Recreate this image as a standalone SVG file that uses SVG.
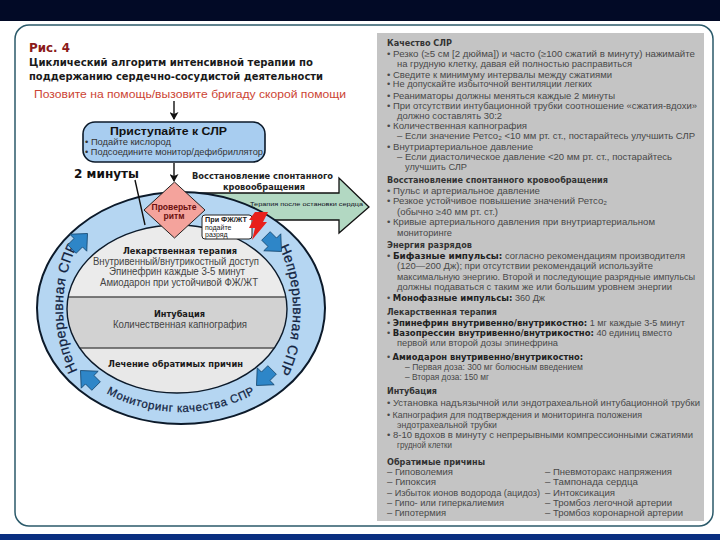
<svg xmlns="http://www.w3.org/2000/svg" width="720" height="540" viewBox="0 0 720 540">
<style>
text{font-family:"Liberation Sans",Arial,sans-serif;fill:#222}
.wide{font-family:"DejaVu Sans",Verdana,sans-serif;font-weight:700}
.p{font-size:8.6px;fill:#484848}
.h{font-family:"DejaVu Sans",sans-serif;font-weight:700;fill:#333;font-size:8px}
.b{font-family:"DejaVu Sans",sans-serif;font-weight:700;fill:#222;font-size:8px}
.i{font-family:"DejaVu Sans",sans-serif;font-weight:700;fill:#1a1a1a;font-size:9px}
.m{text-anchor:middle}
.in{font-size:10px;fill:#444}
.ring{font-size:14px;fill:#12233f;stroke:#12233f;stroke-width:.25;letter-spacing:.5px}
.ringb{font-size:11.5px;fill:#12233f;stroke:#12233f;stroke-width:.25;letter-spacing:.6px}
.line{stroke:#111;stroke-width:1.4;fill:none}
.blue{fill:#2e86c8;stroke:#14466e;stroke-width:.8}
</style>
<defs>
<marker id="ah" markerWidth="9" markerHeight="9" refX="7" refY="4.500" orient="auto" markerUnits="userSpaceOnUse"><path d="M0,0L8,4.500L0,9L2,4.500Z" fill="#111"/></marker>
<clipPath id="innerClip"><ellipse cx="177" cy="309" rx="110" ry="84"/></clipPath>
<path id="blk" d="M0,-12L12,1L6,1L6,10L-6,10L-6,1L-12,1Z"/>
<path id="pathL" d="M179,438A116,130 0 0 1 179,178" fill="none"/>
<path id="pathR" d="M179,178A114,132 0 0 1 179,442" fill="none"/>
<path id="pathB" d="M51,308A130,104 0 0 0 311,308" fill="none"/>
</defs>

<rect width="720" height="540" fill="#fff"/>
<rect width="720" height="21" fill="#020a26"/>
<rect y="534" width="720" height="6" fill="#0a2f80"/>
<rect x="15" y="25" width="698" height="501" rx="14" fill="#fff" stroke="#2b5a6a" stroke-width="1.5"/>

<g id="title">
<text x="29" y="52" font-size="12.500" class="wide" textLength="41" lengthAdjust="spacingAndGlyphs" style="fill:#8b1a1a">Рис. 4</text>
<text x="29" y="66" font-size="10" class="wide" textLength="284" lengthAdjust="spacingAndGlyphs" style="fill:#1a1a1a">Циклический алгоритм интенсивной терапии по</text>
<text x="29" y="80" font-size="10" class="wide" textLength="294" lengthAdjust="spacingAndGlyphs" style="fill:#1a1a1a">поддержанию сердечно-сосудистой деятельности</text>
</g>
<g id="call"><text x="34" y="98" font-size="11" textLength="312" lengthAdjust="spacingAndGlyphs" style="fill:#cc4433">Позовите на помощь/вызовите бригаду скорой помощи</text></g>

<g id="rosc-arrow">
<path d="M190,193L339,193L339,178L369,207L339,233L339,220L250,220L190,220Z" fill="#b2d8c2" stroke="#111" stroke-width="1.300"/>
<text x="250" y="206" font-size="5.800" textLength="113" lengthAdjust="spacingAndGlyphs" style="fill:#112">Терапия после остановки сердца</text>
</g>
<g id="rosc-label">
<rect x="190" y="166" width="148" height="26" fill="#fff"/>
<text x="192" y="179" class="wide" font-size="8" textLength="141" lengthAdjust="spacingAndGlyphs">Восстановление спонтанного</text>
<text x="223" y="190" class="wide" font-size="8" textLength="82" lengthAdjust="spacingAndGlyphs">кровообращения</text>
</g>

<g id="cycle">
<ellipse cx="181" cy="308" rx="144" ry="116" fill="#b5d6f2" stroke="#0c1a2a" stroke-width="2"/>
<g clip-path="url(#innerClip)">
<rect x="60" y="220" width="240" height="77" fill="#ebebeb"/>
<rect x="60" y="297" width="240" height="51" fill="#d2d2d2"/>
<rect x="60" y="348" width="240" height="50" fill="#e8e8e8"/>
<path d="M60,297H300M60,348H300" stroke="#555" stroke-width="1.400"/>
</g>
<ellipse cx="177" cy="309" rx="110" ry="84" fill="none" stroke="#0c1a2a" stroke-width="1.400"/>
<text class="ring m"><textPath href="#pathL" startOffset="50%">Непрерывная СПР</textPath></text>
<text class="ring m"><textPath href="#pathR" startOffset="50%">Непрерывная СПР</textPath></text>
<text class="ringb m"><textPath href="#pathB" startOffset="50%">Мониторинг качества СПР</textPath></text>
<use href="#blk" class="blue" transform="translate(79,242) rotate(45)"/>
<use href="#blk" class="blue" transform="translate(273,243) rotate(135)"/>
<use href="#blk" class="blue" transform="translate(265,377) rotate(225)"/>
<use href="#blk" class="blue" transform="translate(89,379) rotate(315)"/>
</g>

<g id="therapy">
<text x="123" y="254" class="i" textLength="114" lengthAdjust="spacingAndGlyphs">Лекарственная терапия</text>
<text x="93" y="265" class="in" textLength="166" lengthAdjust="spacingAndGlyphs">Внутривенный/внутрикостный доступ</text>
<text x="109" y="275" class="in" textLength="136" lengthAdjust="spacingAndGlyphs">Эпинефрин каждые 3-5 минут</text>
<text x="100" y="286" class="in" textLength="158" lengthAdjust="spacingAndGlyphs">Амиодарон при устойчивой ФЖ/ЖТ</text>
</g>
<g id="intubation">
<text x="154" y="317" class="i" textLength="51" lengthAdjust="spacingAndGlyphs">Интубация</text>
<text x="113" y="328" class="in" textLength="134" lengthAdjust="spacingAndGlyphs">Количественная капнография</text>
</g>
<g id="causes"><text x="108" y="367" class="i" textLength="135" lengthAdjust="spacingAndGlyphs">Лечение обратимых причин</text></g>

<g id="connectors">
<path class="line" d="M174,101V119" marker-end="url(#ah)"/>
<path class="line" d="M174,163V181" marker-end="url(#ah)"/>
<path class="line" d="M135,180L145,225"/>
</g>

<g id="start">
<rect x="83" y="122" width="182" height="40" rx="12" fill="#a8cdf0" stroke="#0c1a2a" stroke-width="1.600"/>
<text x="110" y="135" font-size="11.500" font-weight="700" textLength="117" lengthAdjust="spacingAndGlyphs" style="fill:#111">Приступайте к СЛР</text>
<text x="85" y="145" font-size="9" textLength="86" lengthAdjust="spacingAndGlyphs" style="fill:#333">• Подайте кислород</text>
<text x="85" y="155" font-size="9" textLength="178" lengthAdjust="spacingAndGlyphs" style="fill:#333">• Подсоедините монитор/дефибриллятор</text>
</g>
<g id="label-2min"><text x="74" y="178" font-size="12.500" class="wide" textLength="65" lengthAdjust="spacingAndGlyphs" style="fill:#111">2 минуты</text></g>

<g id="rhythm">
<path d="M174.500,182L205,210L174.500,238L144,210Z" fill="#f4a39c" stroke="#222" stroke-width="1"/>
<text x="174" y="210" class="m" font-size="8.500" font-weight="700" style="fill:#6a1010">Проверьте</text>
<text x="174" y="219" class="m" font-size="8.500" font-weight="700" style="fill:#6a1010">ритм</text>
</g>
<g id="shock">
<rect x="202" y="215" width="50" height="24" rx="3" fill="#fff" stroke="#222" stroke-width="1"/>
<text x="205" y="222" font-size="7" font-weight="700" textLength="42" lengthAdjust="spacingAndGlyphs" style="fill:#222">При ФЖ/ЖТ</text>
<text x="205" y="229.500" font-size="7" style="fill:#222">подайте</text>
<text x="205" y="237" font-size="7" style="fill:#222">разряд</text>
<path d="M255,212L268,212L263,222L267,222L252,240L255,228L249,228L253,220L249,220Z" fill="#e8201c"/>
</g>

<g id="panel">
<rect x="377" y="33" width="327" height="488" fill="#c4c4c4"/>
<text class="h" x="387" y="46" textLength="65" lengthAdjust="spacingAndGlyphs">Качество СЛР</text>
<text class="p" x="387" y="57" textLength="308" lengthAdjust="spacingAndGlyphs">• Резко (≥5 см [2 дюйма]) и часто (≥100 сжатий в минуту) нажимайте</text>
<text class="p" x="397" y="67" textLength="235" lengthAdjust="spacingAndGlyphs">на грудную клетку, давая ей полностью расправиться</text>
<text class="p" x="387" y="78" textLength="225" lengthAdjust="spacingAndGlyphs">• Сведите к минимуму интервалы между сжатиями</text>
<text class="p" x="387" y="87" textLength="205" lengthAdjust="spacingAndGlyphs">• Не допускайте избыточной вентиляции легких</text>
<text class="p" x="387" y="99" textLength="228" lengthAdjust="spacingAndGlyphs">• Реаниматоры должны меняться каждые 2 минуты</text>
<text class="p" x="387" y="109" textLength="310" lengthAdjust="spacingAndGlyphs">• При отсутствии интубационной трубки соотношение «сжатия-вдохи»</text>
<text class="p" x="397" y="119" textLength="105" lengthAdjust="spacingAndGlyphs">должно составлять 30:2</text>
<text class="p" x="387" y="129" textLength="140" lengthAdjust="spacingAndGlyphs">• Количественная капнография</text>
<text class="p" x="397" y="139" textLength="298" lengthAdjust="spacingAndGlyphs">– Если значение Ретсо₂ &lt;10 мм рт. ст., постарайтесь улучшить СЛР</text>
<text class="p" x="387" y="150" textLength="146" lengthAdjust="spacingAndGlyphs">• Внутриартериальное давление</text>
<text class="p" x="397" y="160" textLength="275" lengthAdjust="spacingAndGlyphs">– Если диастолическое давление &lt;20 мм рт. ст., постарайтесь</text>
<text class="p" x="405" y="170" textLength="62" lengthAdjust="spacingAndGlyphs">улучшить СЛР</text>
<text class="h" x="387" y="183" textLength="221" lengthAdjust="spacingAndGlyphs">Восстановление спонтанного кровообращения</text>
<text class="p" x="387" y="194" textLength="153" lengthAdjust="spacingAndGlyphs">• Пульс и артериальное давление</text>
<text class="p" x="387" y="204" textLength="220" lengthAdjust="spacingAndGlyphs">• Резкое устойчивое повышение значений Ретсо₂</text>
<text class="p" x="397" y="215" textLength="101" lengthAdjust="spacingAndGlyphs">(обычно ≥40 мм рт. ст.)</text>
<text class="p" x="387" y="225" textLength="268" lengthAdjust="spacingAndGlyphs">• Кривые артериального давления при внутриартериальном</text>
<text class="p" x="397" y="236" textLength="55" lengthAdjust="spacingAndGlyphs">мониторинге</text>
<text class="h" x="387" y="248" textLength="85" lengthAdjust="spacingAndGlyphs">Энергия разрядов</text>
<text class="p" x="387" y="259" textLength="298" lengthAdjust="spacingAndGlyphs">• <tspan class="b">Бифазные импульсы:</tspan> согласно рекомендациям производителя</text>
<text class="p" x="397" y="269" textLength="256" lengthAdjust="spacingAndGlyphs">(120—200 Дж); при отсутствии рекомендаций используйте</text>
<text class="p" x="397" y="280" textLength="298" lengthAdjust="spacingAndGlyphs">максимальную энергию. Второй и последующие разрядные импульсы</text>
<text class="p" x="397" y="290" textLength="275" lengthAdjust="spacingAndGlyphs">должны подаваться с таким же или большим уровнем энергии</text>
<text class="p" x="387" y="301" textLength="158" lengthAdjust="spacingAndGlyphs">• <tspan class="b">Монофазные импульсы:</tspan> 360 Дж</text>
<text class="h" x="387" y="315" textLength="110" lengthAdjust="spacingAndGlyphs">Лекарственная терапия</text>
<text class="p" x="387" y="326" textLength="298" lengthAdjust="spacingAndGlyphs">• <tspan class="b">Эпинефрин внутривенно/внутрикостно:</tspan> 1 мг каждые 3-5 минут</text>
<text class="p" x="387" y="336" textLength="285" lengthAdjust="spacingAndGlyphs">• <tspan class="b">Вазопрессин внутривенно/внутрикостно:</tspan> 40 единиц вместо</text>
<text class="p" x="397" y="346" textLength="161" lengthAdjust="spacingAndGlyphs">первой или второй дозы эпинефрина</text>
<text class="p" x="387" y="360" textLength="196" lengthAdjust="spacingAndGlyphs">• <tspan class="b">Амиодарон внутривенно/внутрикостно:</tspan></text>
<text class="p" x="405" y="370" textLength="178" lengthAdjust="spacingAndGlyphs">– Первая доза: 300 мг болюсным введением</text>
<text class="p" x="405" y="380" textLength="84" lengthAdjust="spacingAndGlyphs">– Вторая доза: 150 мг</text>
<text class="h" x="387" y="394" textLength="50" lengthAdjust="spacingAndGlyphs">Интубация</text>
<text class="p" x="387" y="406" textLength="313" lengthAdjust="spacingAndGlyphs">• Установка надъязычной или эндотрахеальной интубационной трубки</text>
<text class="p" x="387" y="418" textLength="255" lengthAdjust="spacingAndGlyphs">• Капнография для подтверждения и мониторинга положения</text>
<text class="p" x="397" y="428" textLength="100" lengthAdjust="spacingAndGlyphs">эндотрахеальной трубки</text>
<text class="p" x="387" y="438" textLength="306" lengthAdjust="spacingAndGlyphs">• 8-10 вдохов в минуту с непрерывными компрессионными сжатиями</text>
<text class="p" x="397" y="448" textLength="55" lengthAdjust="spacingAndGlyphs">грудной клетки</text>
<text class="h" x="387" y="465" textLength="98" lengthAdjust="spacingAndGlyphs">Обратимые причины</text>
<text class="p" x="387" y="475" textLength="66" lengthAdjust="spacingAndGlyphs">– Гиповолемия</text>
<text class="p" x="387" y="485" textLength="49" lengthAdjust="spacingAndGlyphs">– Гипоксия</text>
<text class="p" x="387" y="496" textLength="153" lengthAdjust="spacingAndGlyphs">– Избыток ионов водорода (ацидоз)</text>
<text class="p" x="387" y="506" textLength="117" lengthAdjust="spacingAndGlyphs">– Гипо- или гиперкалиемия</text>
<text class="p" x="387" y="516" textLength="59" lengthAdjust="spacingAndGlyphs">– Гипотермия</text>
<text class="p" x="545" y="475" textLength="127" lengthAdjust="spacingAndGlyphs">– Пневмоторакс напряжения</text>
<text class="p" x="545" y="485" textLength="93" lengthAdjust="spacingAndGlyphs">– Тампонада сердца</text>
<text class="p" x="545" y="496" textLength="70" lengthAdjust="spacingAndGlyphs">– Интоксикация</text>
<text class="p" x="545" y="506" textLength="127" lengthAdjust="spacingAndGlyphs">– Тромбоз легочной артерии</text>
<text class="p" x="545" y="516" textLength="138" lengthAdjust="spacingAndGlyphs">– Тромбоз коронарной артерии</text>
</g>
</svg>
